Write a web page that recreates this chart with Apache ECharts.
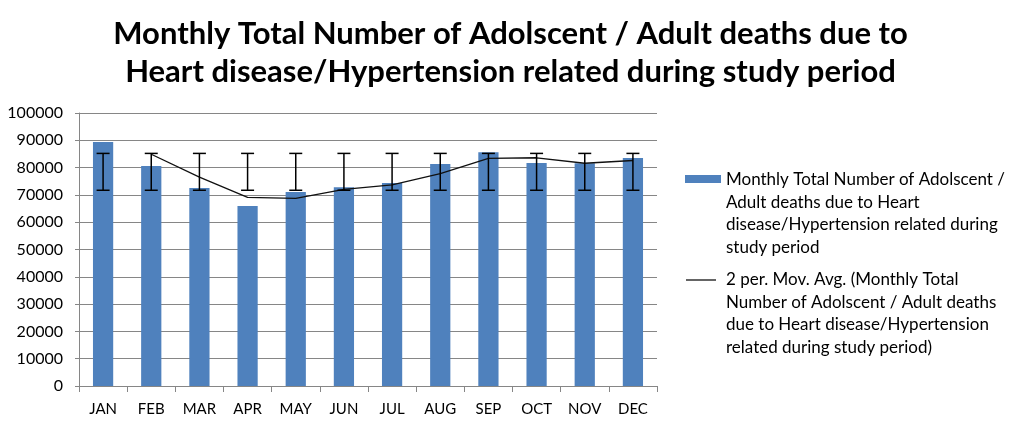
<!DOCTYPE html>
<html>
<head>
<meta charset="utf-8">
<script src="https://cdn.jsdelivr.net/npm/echarts@6/dist/echarts.min.js"></script>
<style>
  html, body { margin: 0; padding: 0; background: #fff; }
  #chart { width: 1021px; height: 428px; }
</style>
</head>
<body>
<div id="chart"></div>
<script>
const months = ["JAN", "FEB", "MAR", "APR", "MAY", "JUN", "JUL", "AUG", "SEP", "OCT", "NOV", "DEC"];
const deaths = [89400, 80600, 72500, 65900, 71100, 72800, 74400, 81300, 85600, 81700, 81600, 83500];
// moving average trendline (no point for JAN)
const movAvg = [null, 84900, 76500, 69100, 68700, 72000, 73700, 77800, 83400, 83600, 81600, 82600];
const errLow = [71700, 71700, 71700, 71700, 71700, 71700, 71700, 71700, 71700, 71700, 71700, 71700];
const errHigh = [85200, 85200, 85200, 85200, 85200, 85200, 85200, 85200, 85200, 85200, 85200, 85200];
const yTicks = [0, 10000, 20000, 30000, 40000, 50000, 60000, 70000, 80000, 90000, 100000];

const barName = "Monthly Total Number of Adolscent / Adult deaths due to Heart disease/Hypertension related during study period";
const avgName = "2 per. Mov. Avg. (" + barName + ")";

const font = "Lato, 'Noto Sans', sans-serif";
const gridColor = "#868686";

const chart = echarts.init(document.getElementById("chart"));

const option = {
  animation: false,
  textStyle: { fontFamily: font },
  title: {
    text: "Monthly Total Number of Adolscent / Adult deaths due to\nHeart disease/Hypertension related during study period",
    left: "center",
    top: 10,
    textStyle: {
      fontFamily: font,
      fontSize: 31,
      fontWeight: "bold",
      color: "#000",
      lineHeight: 38,
    },
  },
  legend: { show: false },
  grid: {
    left: 79,
    top: 113,
    width: 578,
    height: 273,
  },
  xAxis: {
    type: "category",
    data: months,
    axisLine: { lineStyle: { color: gridColor } },
    axisTick: { show: true, length: 6, lineStyle: { color: gridColor } },
    axisLabel: { color: "#000", fontSize: 15, margin: 16, fontFamily: font },
  },
  yAxis: {
    type: "value",
    min: yTicks[0],
    max: yTicks[yTicks.length - 1],
    interval: yTicks[1] - yTicks[0],
    axisLine: { show: true, lineStyle: { color: gridColor } },
    axisTick: { show: true, length: 4, lineStyle: { color: gridColor } },
    splitLine: { lineStyle: { color: gridColor, width: 1 } },
    axisLabel: {
      color: "#000",
      fontSize: 16,
      margin: 16,
      fontFamily: font,
      formatter: (v) => String(v),
    },
  },
  series: [
    {
      name: barName,
      type: "bar",
      data: deaths,
      barWidth: "42%",
      itemStyle: { color: "#4F81BD" },
      z: 2,
    },
    {
      name: avgName,
      type: "line",
      data: movAvg,
      showSymbol: false,
      lineStyle: { color: "#111", width: 1.3 },
      z: 3,
    },
    {
      name: "error",
      type: "custom",
      data: months.map((m, i) => [i, errLow[i], errHigh[i]]),
      encode: { x: 0, y: [1, 2] },
      z: 4,
      renderItem: function (params, api) {
        const lo = api.coord([api.value(0), api.value(1)]);
        const hi = api.coord([api.value(0), api.value(2)]);
        const half = 6.5;
        const style = { stroke: "#000", lineWidth: 1.5 };
        return {
          type: "group",
          children: [
            { type: "line", shape: { x1: lo[0], y1: lo[1], x2: hi[0], y2: hi[1] }, style: style },
            { type: "line", shape: { x1: hi[0] - half, y1: hi[1], x2: hi[0] + half, y2: hi[1] }, style: style },
            { type: "line", shape: { x1: lo[0] - half, y1: lo[1], x2: lo[0] + half, y2: lo[1] }, style: style },
          ],
        };
      },
    },
  ],
  graphic: [
    {
      type: "rect",
      shape: { x: 685, y: 175, width: 36, height: 8 },
      style: { fill: "#4F81BD" },
    },
    {
      type: "text",
      x: 726,
      y: 168,
      style: {
        text: "Monthly Total Number of Adolscent /\nAdult deaths due to Heart\ndisease/Hypertension related during\nstudy period",
        font: "17px " + font,
        fill: "#000",
        lineHeight: 22.7,
        verticalAlign: "top",
      },
    },
    {
      type: "line",
      shape: { x1: 686, y1: 280, x2: 716, y2: 280 },
      style: { stroke: "#111", lineWidth: 1.3 },
    },
    {
      type: "text",
      x: 726,
      y: 268,
      style: {
        text: "2 per. Mov. Avg. (Monthly Total\nNumber of Adolscent / Adult deaths\ndue to Heart disease/Hypertension\nrelated during study period)",
        font: "17px " + font,
        fill: "#000",
        lineHeight: 22.7,
        verticalAlign: "top",
      },
    },
  ],
};

chart.setOption(option);
</script>
</body>
</html>
